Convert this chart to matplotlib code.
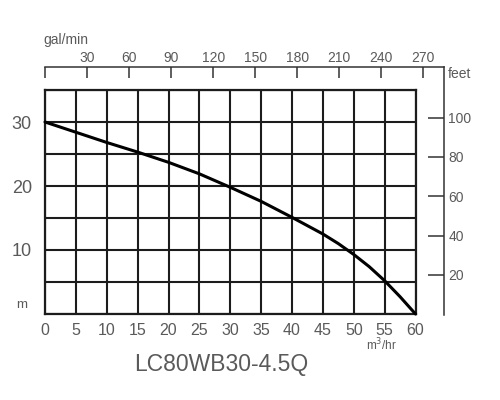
import matplotlib
matplotlib.use("Agg")
import matplotlib.pyplot as plt
from matplotlib.ticker import FuncFormatter

# data
flow_m3h = [0, 5, 10, 15, 20, 25, 30, 35, 40, 45, 47.5, 50, 52.5, 55, 57.5, 60]
head_m = [30, 28.4, 26.8, 25.3, 23.7, 21.9, 19.8, 17.6, 15.1, 12.5, 11.0, 9.3, 7.4, 5.2, 2.7, 0]
x_ticks = list(range(0, 61, 5))
y_grid = list(range(0, 36, 5))
y_labels = [10, 20, 30]
gpm_ticks = list(range(0, 271, 30))
feet_ticks = [20, 40, 60, 80, 100]
title = "LC80WB30-4.5Q"

plt.rcParams['font.family'] = ['Liberation Sans', 'DejaVu Sans']
TXT = '#5a5a5a'
LINE = '#1c1c1c'

W, H = 500, 400
fig = plt.figure(figsize=(5, 4), dpi=100)

def rect(x0, y0, x1, y1):
    return [x0 / W, 1 - y1 / H, (x1 - x0) / W, (y1 - y0) / H]

# secondary frame (gal/min on top, feet on right)
ax2 = fig.add_axes(rect(45, 67.3, 444.3, 315))
ax2.patch.set_alpha(0)
ax2.set_xlim(0, 285)
ax2.set_ylim(-0.36, 125.6)
for s in ['left', 'bottom']:
    ax2.spines[s].set_visible(False)
for s in ['top', 'right']:
    ax2.spines[s].set_color('#333333')
    ax2.spines[s].set_linewidth(1.1)
ax2.xaxis.set_ticks_position('top')
ax2.yaxis.set_ticks_position('right')
ax2.set_xticks(gpm_ticks)
ax2.set_xticklabels(['' if v == 0 else str(v) for v in gpm_ticks])
ax2.set_yticks(feet_ticks)
ax2.tick_params(axis='x', direction='in', length=8, width=1.1, color='#333333',
                labelsize=10, labelcolor=TXT, pad=1.5)
ax2.tick_params(axis='y', direction='in', length=11.5, width=1.1, color='#333333',
                labelsize=10, labelcolor=TXT, pad=3)

# main grid chart
ax = fig.add_axes(rect(45, 90, 415.5, 314))
ax.set_xlim(0, 60)
ax.set_ylim(0, 35)
ax.set_xticks(x_ticks)
ax.set_yticks(y_grid)
ax.yaxis.set_major_formatter(FuncFormatter(lambda v, p: str(int(v)) if int(v) in y_labels else ''))
ax.grid(True, color=LINE, linewidth=1.5)
for s in ax.spines.values():
    s.set_color(LINE)
    s.set_linewidth(1.6)
ax.tick_params(axis='x', length=0, labelsize=11.5, labelcolor=TXT, pad=6.5)
ax.tick_params(axis='y', length=0, labelsize=13, labelcolor=TXT, pad=9.5)
ax.plot(flow_m3h, head_m, color='black', linewidth=2.2, solid_capstyle='round',
        solid_joinstyle='round', zorder=3, clip_on=False)

# labels
ax.annotate('m', xy=(0, 1.4), xycoords='data', xytext=(-13, 0), textcoords='offset points',
            ha='right', va='center', fontsize=9.5, color=TXT)
fig.text(43 / W, 1 - 40 / H, 'gal/min', ha='left', va='center', fontsize=10, color=TXT)
fig.text(448 / W, 1 - 74 / H, 'feet', ha='left', va='center', fontsize=10, color=TXT)
fig.text(381 / W, 1 - 345 / H, 'm$^3$/hr', ha='center', va='center', fontsize=8.5, color=TXT)
fig.text(221.5 / W, 1 - 365 / H, title, ha='center', va='center', fontsize=16.5, color=TXT)

fig.savefig('out.png', dpi=100, facecolor='white')
